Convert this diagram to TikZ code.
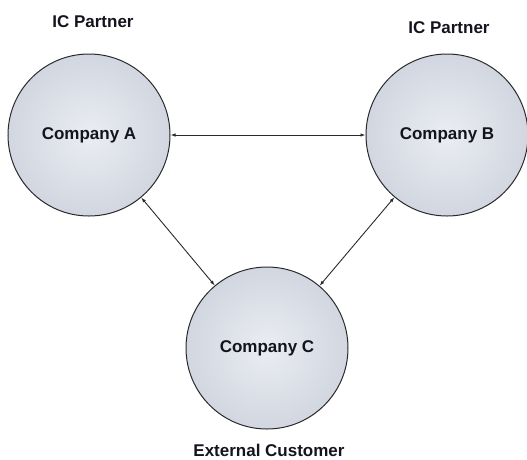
\documentclass[tikz,border=0pt]{standalone}
\usepackage{fontspec}
\setmainfont{Liberation Sans}
\usepackage{tikz}
\usetikzlibrary{arrows.meta}
\definecolor{circlelight}{HTML}{EAEDF2}
\definecolor{circledark}{HTML}{D2D6E0}
\definecolor{linegray}{HTML}{2A2A2A}
\definecolor{textnavy}{HTML}{14141E}
\tikzstyle{company}=[circle, draw=linegray, line width=1pt, minimum size=162pt, inner sep=0pt, inner color=circlelight, outer color=circledark, text=textnavy, font=\bfseries\fontsize{17}{19}\selectfont]
\tikzstyle{role}=[inner sep=0pt, text=textnavy, font=\bfseries\fontsize{17}{19}\selectfont]
\tikzstyle{link}=[>={Latex[length=5pt,width=3.5pt]}, <->, draw=linegray, line width=0.9pt]

\begin{document}
\begin{tikzpicture}[x=1pt, y=-1pt]
    \useasboundingbox (0,0) rectangle (527,459);

    % companies
    \node[company] (compa) at (89,135) {Company A};
    \node[company] (compb) at (447,135) {Company B};
    \node[company] (compc) at (267,348) {Company C};

    % roles
    \node[role] (rolea) at (93,22) {IC Partner};
    \node[role] (roleb) at (449,28) {IC Partner};
    \node[role] (rolec) at (269,450) {External Customer};

    % connections
    \draw[link] (compa) -- (compb);
    \draw[link] (compa) -- (compc);
    \draw[link] (compb) -- (compc);
\end{tikzpicture}
\end{document}
